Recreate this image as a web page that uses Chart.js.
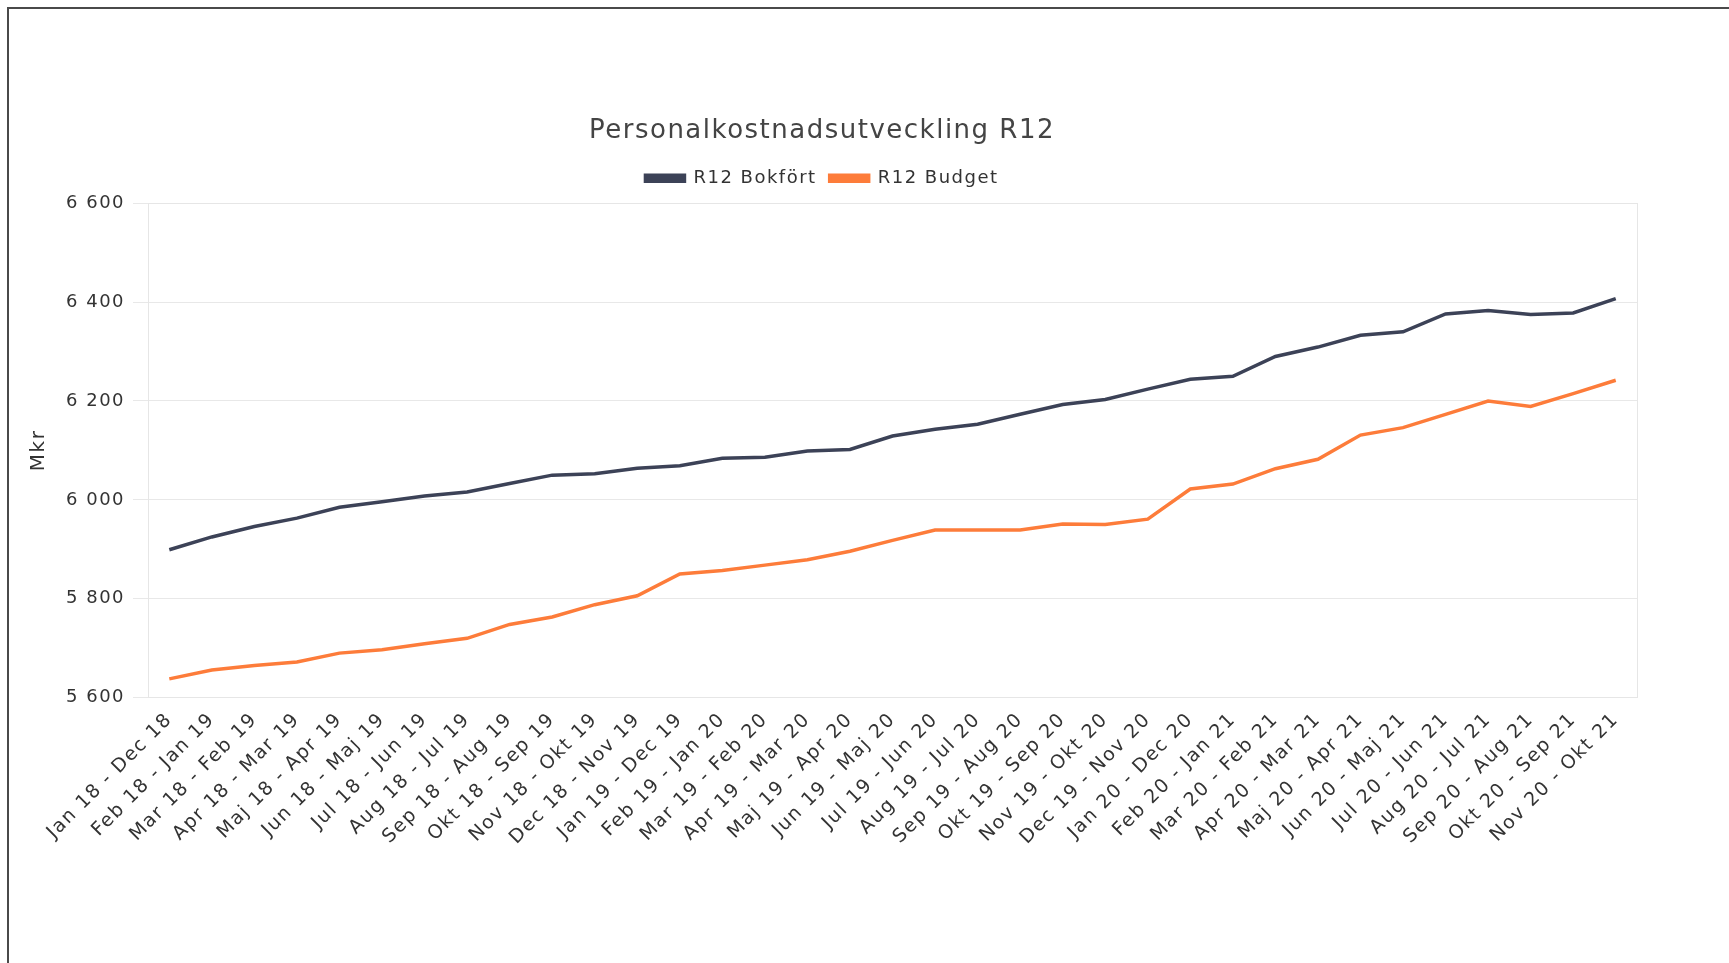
<!DOCTYPE html>
<html>
<head>
<meta charset="utf-8">
<script src="https://cdn.jsdelivr.net/npm/chart.js@4/dist/chart.umd.min.js"></script>
<style>
    body { margin: 0; background: #fff; }
    .ram { position: absolute; left: 7px; top: 7px; width: 1800px; height: 1000px; border: 2px solid #4a4a4a; }
    #grafik_personal { position: absolute; left: 7px; top: 102px; }
</style>
</head>
<body>
<div class="ram"></div>
<canvas id="grafik_personal" width="1633" height="750" style="width:1633px;height:750px"></canvas>
<script>
var label = [
    'Jan 18 - Dec 18', 'Feb 18 - Jan 19', 'Mar 18 - Feb 19', 'Apr 18 - Mar 19', 'Maj 18 - Apr 19',
    'Jun 18 - Maj 19', 'Jul 18 - Jun 19', 'Aug 18 - Jul 19', 'Sep 18 - Aug 19', 'Okt 18 - Sep 19',
    'Nov 18 - Okt 19', 'Dec 18 - Nov 19', 'Jan 19 - Dec 19', 'Feb 19 - Jan 20', 'Mar 19 - Feb 20',
    'Apr 19 - Mar 20', 'Maj 19 - Apr 20', 'Jun 19 - Maj 20', 'Jul 19 - Jun 20', 'Aug 19 - Jul 20',
    'Sep 19 - Aug 20', 'Okt 19 - Sep 20', 'Nov 19 - Okt 20', 'Dec 19 - Nov 20', 'Jan 20 - Dec 20',
    'Feb 20 - Jan 21', 'Mar 20 - Feb 21', 'Apr 20 - Mar 21', 'Maj 20 - Apr 21', 'Jun 20 - Maj 21',
    'Jul 20 - Jun 21', 'Aug 20 - Jul 21', 'Sep 20 - Aug 21', 'Okt 20 - Sep 21', 'Nov 20 - Okt 21'
];

var bokfort = [
    5899, 5925, 5946, 5963, 5985, 5996, 6008, 6016, 6033, 6050,
    6053, 6064, 6069, 6084, 6086, 6099, 6102, 6129, 6143, 6153,
    6173, 6193, 6203, 6224, 6244, 6250, 6290, 6309, 6333, 6340,
    6376, 6383, 6375, 6378, 6407
];

var budget = [
    5638, 5656, 5665, 5672, 5690, 5697, 5709, 5720, 5748, 5763,
    5788, 5806, 5850, 5857, 5868, 5879, 5896, 5918, 5939, 5939,
    5939, 5951, 5950, 5961, 6022, 6032, 6063, 6082, 6131, 6146,
    6173, 6200, 6189, 6215, 6242
];

var yMin = 5600;
var yMax = 6600;
var yStep = 200;

// tunn ram runt ritytan, lite luft under legenden och bredare teckenavstånd som i originalet
var ramPlugin = {
    id: 'ramPlugin',
    beforeInit: function (chart) {
        var fit = chart.legend.fit;
        chart.legend.fit = function () {
            fit.bind(chart.legend)();
            this.height += 6;
        };
    },
    afterInit: function (chart) {
        chart.ctx.letterSpacing = '1.5px';
    },
    beforeDatasetsDraw: function (chart) {
        var a = chart.chartArea;
        var c = chart.ctx;
        c.save();
        c.strokeStyle = '#e6e6e6';
        c.lineWidth = 1;
        c.strokeRect(Math.round(a.left) + 0.5, Math.round(a.top) + 0.5, Math.round(a.width), Math.round(a.height));
        c.restore();
    }
};

const ctx = document.getElementById('grafik_personal');
new Chart(ctx, {
    type: 'line',
    data: {
        labels: label,
        datasets: [{
            label: 'R12 Bokfört',
            data: bokfort,
            borderColor: '#3c4257',
            backgroundColor: '#3c4257',
            borderWidth: 3.5,
            pointRadius: 0,
            tension: 0
        }, {
            label: 'R12 Budget',
            data: budget,
            borderColor: '#fd7c3a',
            backgroundColor: '#fd7c3a',
            borderWidth: 3.5,
            pointRadius: 0,
            tension: 0
        }]
    },
    options: {
        responsive: false,
        animation: false,
        devicePixelRatio: 1,
        layout: {
            padding: { left: 0, right: 3, top: 0, bottom: 0 }
        },
        plugins: {
            title: {
                display: true,
                text: 'Personalkostnadsutveckling R12',
                color: '#444',
                font: { family: 'DejaVu Sans', size: 26, weight: 'normal' },
                padding: { top: 14, bottom: 9 }
            },
            legend: {
                labels: {
                    color: '#333',
                    font: { family: 'DejaVu Sans', size: 18 },
                    boxWidth: 39,
                    boxHeight: 6,
                    padding: 13
                }
            },
            tooltip: { enabled: false }
        },
        scales: {
            x: {
                offset: true,
                grid: { display: false },
                border: { display: true, color: '#e6e6e6' },
                ticks: {
                    color: '#333',
                    font: { family: 'DejaVu Sans', size: 19 },
                    minRotation: 45,
                    maxRotation: 45,
                    autoSkip: false
                }
            },
            y: {
                min: yMin,
                max: yMax,
                grid: { color: '#e8e8e8', tickLength: 15 },
                border: { display: true, color: '#e6e6e6' },
                ticks: {
                    stepSize: yStep,
                    color: '#333',
                    padding: 8,
                    font: { family: 'DejaVu Sans', size: 18 },
                    callback: function (v) {
                        return String(v).replace(/\B(?=(\d{3})+(?!\d))/g, ' ');
                    }
                },
                title: {
                    display: true,
                    text: 'Mkr',
                    color: '#333',
                    font: { family: 'DejaVu Sans', size: 20 },
                    padding: { top: 20, bottom: 7 }
                }
            }
        }
    },
    plugins: [ramPlugin]
});
</script>
</body>
</html>
